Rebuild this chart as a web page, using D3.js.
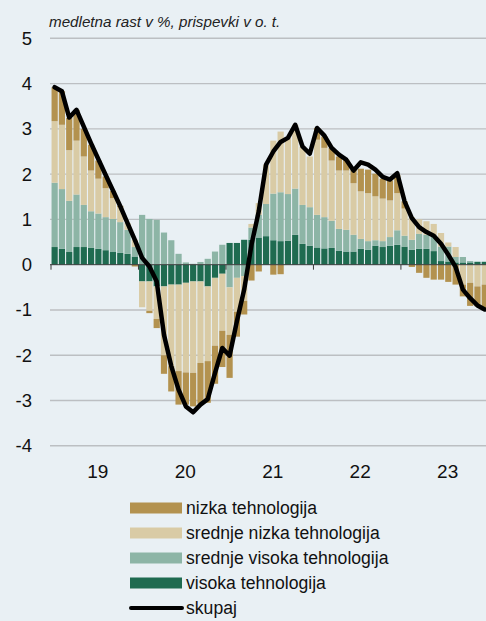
<!DOCTYPE html>
<html>
<head>
<meta charset="utf-8">
<script src="https://cdn.jsdelivr.net/npm/d3@7"></script>
<style>
  body { margin: 0; background: #e9f0f4; }
  svg { display: block; font-family: "Liberation Sans", Arial, sans-serif; }
</style>
</head>
<body>
<div id="chart"></div>
<script>
const months = [
  '2019-01','2019-02','2019-03','2019-04','2019-05','2019-06','2019-07','2019-08','2019-09','2019-10','2019-11','2019-12',
  '2020-01','2020-02','2020-03','2020-04','2020-05','2020-06','2020-07','2020-08','2020-09','2020-10','2020-11','2020-12',
  '2021-01','2021-02','2021-03','2021-04','2021-05','2021-06','2021-07','2021-08','2021-09','2021-10','2021-11','2021-12',
  '2022-01','2022-02','2022-03','2022-04','2022-05','2022-06','2022-07','2022-08','2022-09','2022-10','2022-11','2022-12',
  '2023-01','2023-02','2023-03','2023-04','2023-05','2023-06','2023-07','2023-08','2023-09','2023-10','2023-11','2023-12'
];
const yearLabels = ['19', '20', '21', '22', '23'];
const yTicks = [5, 4, 3, 2, 1, 0, -1, -2, -3, -4];

// prispevki v o. t.
const visoka = [
  0.39, 0.35, 0.28, 0.39, 0.39, 0.37, 0.35, 0.32, 0.28, 0.26, 0.24, 0.18,
  -0.37, -0.37, -0.48, -0.48, -0.44, -0.44, -0.40, -0.37, -0.37, -0.48, -0.29, -0.20,
  0.48, 0.48, 0.55, 0.55, 0.60, 0.63, 0.54, 0.52, 0.53, 0.66, 0.46, 0.42,
  0.38, 0.36, 0.37, 0.31, 0.29, 0.29, 0.35, 0.33, 0.42, 0.39, 0.42, 0.44,
  0.40, 0.33, 0.35, 0.35, 0.30, 0.08, 0.07, 0.05, 0.05, 0.05, 0.06, 0.06
];
const srednjeVisoka = [
  1.42, 1.32, 1.13, 1.16, 0.93, 0.81, 0.78, 0.73, 0.73, 0.68, 0.53, 0.21,
  1.10, 1.01, 0.99, 0.71, 0.54, 0.24, 0.05, 0.02, 0.06, 0.13, 0.29, 0.44,
  -0.50, -0.29, -0.25, 0.27, 0.50, 0.71, 1.03, 1.08, 1.03, 1.02, 0.86, 0.85,
  0.72, 0.69, 0.60, 0.48, 0.48, 0.37, 0.22, 0.19, 0.12, 0.13, 0.19, 0.32,
  0.24, 0.22, 0.33, 0.31, 0.33, 0.32, 0.33, 0.12, 0.12, 0.03, 0.01, 0.01
];
const srednjeNizka = [
  1.36, 1.42, 1.12, 1.19, 1.07, 0.90, 0.77, 0.64, 0.46, 0.33, 0.15, 0.16,
  -0.57, -0.65, -0.72, -1.52, -1.80, -1.91, -1.98, -2.02, -1.80, -1.65, -1.50, -1.26,
  -1.05, -0.75, -0.55, 0.08, 0.26, 0.87, 1.17, 1.34, 1.24, 1.41, 1.29, 1.12,
  1.66, 1.53, 1.33, 1.29, 1.31, 1.14, 1.05, 1.06, 0.97, 0.94, 0.81, 0.82,
  0.60, 0.50, 0.32, 0.30, 0.27, 0.30, 0.09, 0.22, -0.44, -0.40, -0.48, -0.44
];
const nizka = [
  0.75, 0.74, 0.71, 0.68, 0.61, 0.57, 0.40, 0.26, 0.16, 0.03, 0.00, -0.04,
  0.00, -0.05, -0.20, -0.41, -0.56, -0.74, -0.71, -0.74, -0.90, -0.92, -0.84, -0.80,
  -0.95, -0.55, -0.30, -0.35, -0.15, 0.00, -0.22, -0.21, 0.00, 0.00, 0.00, 0.00,
  0.26, 0.25, 0.28, 0.31, 0.24, 0.30, 0.50, 0.52, 0.50, 0.44, 0.44, 0.40,
  0.16, -0.05, -0.18, -0.29, -0.33, -0.33, -0.38, -0.44, -0.26, -0.51, -0.44, -0.55
];
// medletna rast v %
const skupaj = [
  3.92, 3.83, 3.25, 3.42, 3.05, 2.68, 2.33, 1.98, 1.64, 1.29, 0.92, 0.55,
  0.15, -0.04, -0.37, -1.55, -2.24, -2.76, -3.13, -3.26, -3.09, -2.97, -2.39, -1.84,
  -2.01, -1.25, -0.55, 0.44, 1.18, 2.21, 2.50, 2.71, 2.80, 3.09, 2.61, 2.45,
  3.02, 2.85, 2.58, 2.43, 2.32, 2.08, 2.26, 2.21, 2.10, 1.94, 1.88, 2.02,
  1.40, 1.03, 0.83, 0.72, 0.64, 0.46, 0.22, -0.05, -0.55, -0.74, -0.90, -0.99
];

const series = [
  { key: 'visoka', label: 'visoka tehnologija', color: '#1f6b50', values: visoka },
  { key: 'srednjeVisoka', label: 'srednje visoka tehnologija', color: '#8db5a6', values: srednjeVisoka },
  { key: 'srednjeNizka', label: 'srednje nizka tehnologija', color: '#d9cba5', values: srednjeNizka },
  { key: 'nizka', label: 'nizka tehnologija', color: '#b3924f', values: nizka }
];

const width = 486;
const height = 621;

const table = months.map((m, i) => {
  const row = { month: m };
  series.forEach(s => (row[s.key] = s.values[i]));
  return row;
});

const stacked = d3.stack()
  .keys(series.map(s => s.key))
  .offset(d3.stackOffsetDiverging)(table);

const svg = d3.select('#chart')
  .append('svg')
  .attr('width', width)
  .attr('height', height);

svg.append('rect')
  .attr('width', width)
  .attr('height', height)
  .attr('fill', '#e9f0f4');

const xScale = d3.scaleBand()
  .domain(months)
  .range([51, 51 + 7.29 * months.length])
  .paddingInner(0.15)
  .paddingOuter(0.075);

const yScale = d3.scaleLinear().domain([-4, 5]).range([445.8, 38.3]);

const slotStart = m => xScale(m) - (xScale.step() - xScale.bandwidth()) / 2;

// grid
svg.append('g')
  .selectAll('line')
  .data(yTicks.filter(v => v !== 0))
  .join('line')
  .attr('x1', 50)
  .attr('x2', width)
  .attr('y1', d => yScale(d))
  .attr('y2', d => yScale(d))
  .attr('stroke', '#bcbfc2')
  .attr('stroke-width', 1.4);

// y labels
svg.append('g')
  .selectAll('text')
  .data(yTicks)
  .join('text')
  .attr('x', 32)
  .attr('y', d => yScale(d) + 6.5)
  .attr('text-anchor', 'end')
  .attr('font-size', 18.5)
  .attr('fill', '#111')
  .text(d => d);

// title
svg.append('text')
  .attr('x', 49)
  .attr('y', 27)
  .attr('font-size', 15.2)
  .attr('font-style', 'italic')
  .attr('fill', '#222')
  .text('medletna rast v %, prispevki v o. t.');

// bars
const layers = svg.append('g')
  .selectAll('g')
  .data(stacked)
  .join('g')
  .attr('fill', (d, i) => series[i].color);

layers.selectAll('rect')
  .data(d => d)
  .join('rect')
  .attr('x', d => xScale(d.data.month))
  .attr('width', xScale.bandwidth())
  .attr('y', d => yScale(Math.max(d[0], d[1])))
  .attr('height', d => Math.abs(yScale(d[0]) - yScale(d[1])));

// zero axis with year ticks
const y0 = yScale(0);
svg.append('line')
  .attr('x1', 50)
  .attr('x2', width)
  .attr('y1', y0)
  .attr('y2', y0)
  .attr('stroke', '#3a3a3a')
  .attr('stroke-width', 1);

const yearStarts = months.filter((m, i) => i % 12 === 0);

svg.append('g')
  .selectAll('line')
  .data(yearStarts)
  .join('line')
  .attr('x1', d => slotStart(d))
  .attr('x2', d => slotStart(d))
  .attr('y1', y0)
  .attr('y2', y0 + 5)
  .attr('stroke', '#3a3a3a')
  .attr('stroke-width', 1);

svg.append('g')
  .selectAll('text')
  .data(yearStarts)
  .join('text')
  .attr('x', d => slotStart(d) + xScale.step() * 6 + 3)
  .attr('y', 478)
  .attr('text-anchor', 'middle')
  .attr('font-size', 19)
  .attr('fill', '#111')
  .text((d, i) => yearLabels[i]);

// total line
svg.append('path')
  .datum(skupaj)
  .attr('fill', 'none')
  .attr('stroke', '#000')
  .attr('stroke-width', 4.5)
  .attr('stroke-linejoin', 'round')
  .attr('stroke-linecap', 'round')
  .attr('d', d3.line()
    .x((d, i) => xScale(months[i]) + xScale.bandwidth() / 2)
    .y(d => yScale(d)));

// legend
const legendItems = series.slice().reverse();
const legend = svg.append('g');
const rowY = i => 508 + i * 25;

legend.selectAll('rect')
  .data(legendItems)
  .join('rect')
  .attr('x', 130)
  .attr('y', (d, i) => rowY(i) - 5.5)
  .attr('width', 52)
  .attr('height', 11)
  .attr('fill', d => d.color);

legend.append('line')
  .attr('x1', 131)
  .attr('x2', 182)
  .attr('y1', rowY(4))
  .attr('y2', rowY(4))
  .attr('stroke', '#000')
  .attr('stroke-width', 4)
  .attr('stroke-linecap', 'round');

legend.selectAll('text')
  .data(legendItems.map(d => d.label).concat(['skupaj']))
  .join('text')
  .attr('x', 186)
  .attr('y', (d, i) => rowY(i) + 6)
  .attr('font-size', 17.6)
  .attr('fill', '#111')
  .text(d => d);
</script>
</body>
</html>
